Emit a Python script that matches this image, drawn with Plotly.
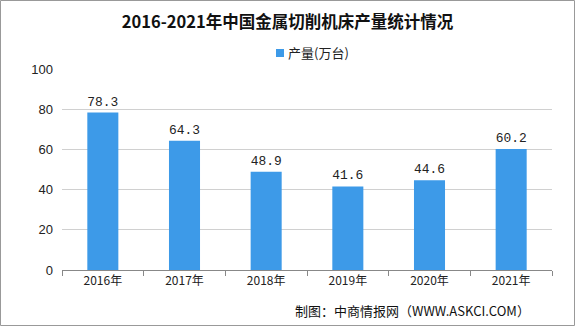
import plotly.graph_objects as go

years = ["2016年", "2017年", "2018年", "2019年", "2020年", "2021年"]
output = [78.3, 64.3, 48.9, 41.6, 44.6, 60.2]
series_name = "产量(万台)"
title = "2016-2021年中国金属切削机床产量统计情况"
source = "制图：中商情报网（WWW.ASKCI.COM）"

W, H = 575, 326
L, R, T, B = 62, 23, 69, 56
PW, PH = W - L - R, H - T - B
BAR = "#3d9ae8"

fig = go.Figure()
fig.add_trace(go.Bar(
    x=years, y=output, name=series_name,
    marker=dict(color=BAR, line=dict(width=0)),
    width=0.38,
    text=[f"{v:.1f}" for v in output], textposition="outside",
    textfont=dict(size=13, color="#222", family="Liberation Mono, DejaVu Sans Mono, monospace"),
    cliponaxis=False, showlegend=False,
))
fig.update_layout(
    width=W, height=H,
    margin=dict(l=L, r=R, t=T, b=B, autoexpand=False),
    paper_bgcolor="white", plot_bgcolor="white",
    title=dict(text="<b>" + title + "</b>", x=0.5, xanchor="center", y=1 - 22 / H, yanchor="middle",
               font=dict(size=16.5, color="#111", family="Noto Sans CJK SC")),
    showlegend=False,
    font=dict(family="Noto Sans CJK SC", color="#222"),
)
fig.update_xaxes(
    showline=True, linecolor="#888", linewidth=1,
    ticks="outside", ticklen=5, tickcolor="#888",
    tickson="boundaries",
    tickfont=dict(size=12, color="#222", family="Noto Sans CJK SC"),
    showgrid=False,
)
fig.update_yaxes(
    range=[0, 100], dtick=20, showgrid=True, gridcolor="#d0d0d0", gridwidth=1,
    zeroline=False, showline=False,
    tickfont=dict(size=13, color="#222", family="Liberation Sans, Arial"),
    ticks="", ticklabelstandoff=8,
)
# legend (manual, to match small square marker)
fig.add_shape(type="rect", xref="paper", yref="paper",
              x0=(276 - L) / PW, x1=(284 - L) / PW,
              y0=1 + (T - 57) / PH, y1=1 + (T - 49) / PH,
              fillcolor=BAR, line=dict(width=0))
fig.add_annotation(text=series_name, xref="paper", yref="paper", x=(286 - L) / PW, xanchor="left",
                   y=1 + (T - 53) / PH, yanchor="middle", showarrow=False,
                   font=dict(size=13, color="#222", family="Noto Sans CJK SC"))
fig.add_annotation(text=source, xref="paper", yref="paper", x=(532 - L) / PW, xanchor="right",
                   y=-(310 - (H - B)) / PH, yanchor="middle", showarrow=False,
                   font=dict(size=13, color="#111", family="Noto Sans CJK SC"))
fig.add_shape(type="rect", xref="paper", yref="paper",
              x0=-(L - 0.5) / PW, x1=1 + (R - 0.5) / PW, y0=-(B - 0.5) / PH, y1=1 + (T - 0.5) / PH,
              line=dict(color="#999", width=1), layer="below")
fig.write_html("out.html")
